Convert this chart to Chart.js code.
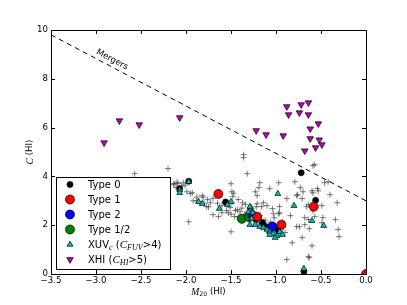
<!DOCTYPE html>
<html>
<head>
<meta charset="utf-8">
<script src="https://cdn.jsdelivr.net/npm/chart.js@4/dist/chart.umd.min.js"></script>
<style>
  html, body { margin: 0; padding: 0; background: #fff; }
  #chart-m20c { display: block; }
</style>
</head>
<body>
<canvas id="chart-m20c" width="407" height="305"></canvas>
<script>
//---data (M20 vs concentration, HI maps)

// field galaxies (grey crosses)
var fieldM20 = [-2.57, -2.20, -2.13, -2.09, -2.03, -2.11, -1.99, -1.93, -1.92, -1.88, -1.97, -2.14, -2.10, -2.01,
  -1.95, -1.82, -1.81, -1.76, -1.73, -1.77, -1.70, -1.64, -1.60, -1.50, -1.49, -1.48, -1.57, -1.51, -1.43, -1.46,
  -1.53, -1.32, -1.18, -1.19, -0.97, -0.77, -1.07, -1.23, -1.21, -1.47, -1.49, -1.42, -1.37, -1.14, -1.10, -1.21,
  -1.16, -1.04, -0.96, -0.84, -0.96, -1.03, -0.59, -0.57, -0.79, -0.46, -0.42, -0.76, -0.70, -0.60, -0.53, -0.71,
  -0.59, -0.49, -0.32, -0.66, -0.64, -0.68, -0.64, -0.57, -0.48, -0.34, -0.77, -0.74, -0.68, -0.63, -0.49, -0.31,
  -0.30, -0.71, -0.60, -0.64, -0.63, -1.36, -1.36, -0.73, -0.88, -0.54, -0.40, -0.82, -0.88, -0.59, -0.97, -0.93,
  -1.16, -1.50, -1.45, -1.40, -1.35, -1.30, -1.25, -1.20, -1.15, -1.10, -1.05, -1.00, -0.95, -1.12, -1.18, -1.38,
  -1.60, -1.65, -1.70, -1.80, -1.75, -1.55, -1.50, -1.42, -1.08, -0.98, -1.02, -1.27, -1.22, -1.34, -1.88, -2.05,
  -1.28, -1.24, -1.16, -1.06, -0.92, -0.90];
var fieldC = [4.11, 4.32, 3.71, 3.71, 3.74, 3.54, 3.37, 3.33, 3.00, 3.00, 2.14, 3.66, 3.76, 3.64,
  3.30, 3.21, 3.15, 3.05, 2.92, 2.76, 2.43, 2.35, 2.51, 3.70, 3.37, 3.17, 2.92, 2.72, 2.64, 2.35,
  2.51, 4.11, 3.74, 3.54, 3.74, 3.21, 3.50, 3.37, 3.21, 3.31, 2.92, 3.05, 2.92, 2.92, 2.80, 2.88,
  2.76, 2.68, 2.51, 2.39, 2.76, 2.47, 4.44, 4.48, 3.78, 3.74, 3.78, 3.25, 3.37, 3.41, 3.41, 3.09,
  3.33, 2.80, 2.92, 2.76, 2.84, 2.31, 2.23, 2.35, 2.31, 2.23, 1.94, 1.94, 2.02, 1.86, 2.10, 1.82,
  1.53, 1.49, 1.16, 0.71, 0.67, 4.89, 4.77, 3.54, 3.09, 3.50, 3.25, 1.28, 0.59, 2.59, 2.47, 2.14,
  1.90, 1.73, 2.60, 2.55, 2.45, 2.30, 2.20, 2.10, 2.05, 2.00, 1.95, 1.85, 1.80, 2.20, 2.40, 2.70,
  2.80, 2.90, 3.10, 2.90, 2.75, 2.60, 2.45, 2.35, 1.70, 1.60, 2.30, 2.60, 2.75, 2.85, 3.15, 3.60,
  2.48, 2.36, 2.22, 2.12, 1.92, 1.70];

var type0M20 = [-1.97, -2.07, -1.56, -1.22, -1.12, -1.05, -0.98, -1.15, -0.72, -0.56, -0.69];
var type0C   = [3.80, 3.50, 2.95, 2.25, 1.95, 1.85, 1.80, 2.10, 4.15, 3.02, 0.10];

var type1M20 = [-1.64, -1.21, -0.94, -0.58, 0.0];
var type1C   = [3.28, 2.35, 2.02, 2.76, 0.0];

var type2M20 = [-1.26, -1.04];
var type2C   = [2.40, 1.95];

var type12M20 = [-1.38, -1.30];
var type12C   = [2.26, 2.33];

var xuvM20 = [-1.97, -2.07, -2.07, -1.86, -1.82, -1.63, -1.54, -1.50, -1.31, -1.28, -1.26, -1.29, -0.98, -0.80, -0.60,
  -0.47, -0.69, -1.27, -1.29, -1.23, -1.18, -1.14, -1.10, -1.07, -1.03, -0.99, -0.96, -0.93, -1.01, -1.07];
var xuvC = [3.78, 3.45, 3.33, 2.96, 2.88, 2.68, 2.84, 2.96, 2.55, 2.72, 2.51, 2.76, 3.29, 2.80, 2.18,
  1.98, 0.22, 2.27, 2.02, 2.02, 1.94, 1.90, 1.82, 1.73, 1.65, 1.57, 1.73, 1.61, 1.49, 1.61];

var xhiM20 = [-2.91, -2.74, -2.52, -2.07, -1.22, -1.11, -0.92, -0.88, -0.72, -0.64, -0.86, -0.74, -0.64, -0.53,
  -0.62, -0.62, -0.52, -0.49, -0.56, -0.68];
var xhiC = [5.38, 6.28, 6.12, 6.41, 5.88, 5.71, 5.67, 6.86, 6.94, 7.02, 6.53, 6.61, 6.53, 6.16,
  5.95, 5.55, 5.50, 5.30, 5.18, 5.05];

// merger criterion line
var mergerM20 = [-3.5, 0.0];
var mergerC   = [9.8, 3.0];

// axes
var xTicks = [-3.5, -3.0, -2.5, -2.0, -1.5, -1.0, -0.5, 0.0];
var yTicks = [0, 2, 4, 6, 8, 10];

function pts(xs, ys) {
  return xs.map(function (x, i) { return { x: x, y: ys[i] }; });
}

//---label text pieces (it = math italic, sub = subscript)
var legendLabels = [
  [{ t: 'Type 0' }],
  [{ t: 'Type 1' }],
  [{ t: 'Type 2' }],
  [{ t: 'Type 1/2' }],
  [{ t: 'XUV' }, { t: 'c', it: 1, sub: 1 }, { t: ' (' }, { t: 'C', it: 1 }, { t: 'FUV', it: 1, sub: 1 }, { t: '>4)' }],
  [{ t: 'XHI (' }, { t: 'C', it: 1 }, { t: 'HI', it: 1, sub: 1 }, { t: '>5)' }]
];
var xTitle = [{ t: 'M', it: 1 }, { t: '20', sub: 1 }, { t: ' (HI)' }];
var yTitle = [{ t: 'C', it: 1 }, { t: ' (HI)' }];

function segFont(s, size) {
  var sz = s.sub ? size * 0.72 : size;
  if (s.it) return 'italic ' + (sz * 1.12).toFixed(2) + 'px "Liberation Serif"';
  return sz.toFixed(2) + 'px "DejaVu Sans"';
}
function richWidth(ctx, segs, size) {
  var w = 0;
  segs.forEach(function (s) { ctx.font = segFont(s, size); w += ctx.measureText(s.t).width; });
  return w;
}
function drawRich(ctx, segs, x, y, size) {
  var cx = x;
  segs.forEach(function (s) {
    ctx.font = segFont(s, size);
    ctx.fillText(s.t, cx, y + (s.sub ? size * 0.28 : 0));
    cx += ctx.measureText(s.t).width;
  });
}

function drawMarker(ctx, style, x, y, r, fill, rot) {
  ctx.beginPath();
  if (style === 'circle') {
    ctx.arc(x, y, r, 0, Math.PI * 2);
  } else {
    var a = (rot || 0) * Math.PI / 180;
    for (var k = 0; k < 3; k++) {
      var px = x + Math.sin(a) * r, py = y - Math.cos(a) * r;
      if (k === 0) ctx.moveTo(px, py); else ctx.lineTo(px, py);
      a += Math.PI * 2 / 3;
    }
    ctx.closePath();
  }
  ctx.fillStyle = fill;
  ctx.fill();
  ctx.lineWidth = 0.7;
  ctx.strokeStyle = '#000';
  ctx.stroke();
}

//---frame, inward ticks, axis titles, annotation and legend
var decorPlugin = {
  id: 'decor',
  afterDraw: function (chart) {
    var ctx = chart.ctx, a = chart.chartArea;
    var xs = chart.scales.x, ys = chart.scales.y;
    ctx.save();
    ctx.strokeStyle = '#000';
    ctx.lineWidth = 1;
    ctx.strokeRect(a.left + 0.5, a.top + 0.5, a.right - a.left, a.bottom - a.top);

    ctx.beginPath();
    xTicks.forEach(function (v) {
      var px = Math.round(xs.getPixelForValue(v)) + 0.5;
      ctx.moveTo(px, a.bottom); ctx.lineTo(px, a.bottom - 4);
      ctx.moveTo(px, a.top); ctx.lineTo(px, a.top + 4);
    });
    yTicks.forEach(function (v) {
      var py = Math.round(ys.getPixelForValue(v)) + 0.5;
      ctx.moveTo(a.left, py); ctx.lineTo(a.left + 4, py);
      ctx.moveTo(a.right, py); ctx.lineTo(a.right - 4, py);
    });
    ctx.stroke();

    // axis titles
    ctx.fillStyle = '#000';
    ctx.textBaseline = 'middle';
    ctx.textAlign = 'left';
    var fs = 8.6;
    var w = richWidth(ctx, xTitle, fs);
    drawRich(ctx, xTitle, (a.left + a.right) / 2 - w / 2, a.bottom + 18, fs);
    ctx.save();
    ctx.translate(a.left - 21, (a.top + a.bottom) / 2);
    ctx.rotate(-Math.PI / 2);
    w = richWidth(ctx, yTitle, fs);
    drawRich(ctx, yTitle, -w / 2, 0, fs);
    ctx.restore();

    // "Mergers" along the dashed line
    var ang = Math.atan2(ys.getPixelForValue(mergerC[1]) - ys.getPixelForValue(mergerC[0]),
                         xs.getPixelForValue(mergerM20[1]) - xs.getPixelForValue(mergerM20[0]));
    var m = -2.855;
    var c = mergerC[0] + (m - mergerM20[0]) * (mergerC[1] - mergerC[0]) / (mergerM20[1] - mergerM20[0]);
    ctx.save();
    ctx.translate(xs.getPixelForValue(m), ys.getPixelForValue(c));
    ctx.rotate(ang);
    ctx.textAlign = 'center';
    ctx.font = '8.6px "DejaVu Sans"';
    ctx.fillText('Mergers', 0, -6.5);
    ctx.restore();

    // legend box, lower left
    var bx = a.left + 5, bw = 114, bh = 92, by = a.bottom - 5 - bh;
    ctx.fillStyle = '#fff';
    ctx.fillRect(bx, by, bw, bh);
    ctx.strokeStyle = '#000';
    ctx.lineWidth = 1;
    ctx.strokeRect(bx + 0.5, by + 0.5, bw, bh);
    chart.data.datasets.forEach(function (ds, i) {
      if (ds.legendRow === undefined) return;
      var r = ds.legendRow;
      var yy = by + 7.5 + r * 15;
      drawMarker(ctx, ds.pointStyle, bx + 14, yy, ds.pointRadius, ds.backgroundColor, ds.rotation);
      ctx.fillStyle = '#000';
      ctx.textAlign = 'left';
      ctx.textBaseline = 'middle';
      drawRich(ctx, legendLabels[r], bx + 32, yy + 0.5, 10);
    });
    ctx.restore();
  }
};

function markerSet(label, xs, ys, style, radius, color, row, order, rot) {
  return {
    label: label,
    data: pts(xs, ys),
    pointStyle: style,
    pointRadius: radius,
    pointHoverRadius: radius,
    rotation: rot || 0,
    backgroundColor: color,
    borderColor: '#000',
    borderWidth: 0.7,
    legendRow: row,
    order: order,
    clip: 0
  };
}

var ctx = document.getElementById('chart-m20c').getContext('2d');
var chartM20 = new Chart(ctx, {
  type: 'scatter',
  data: {
    datasets: [
      {
        label: 'field',
        data: pts(fieldM20, fieldC),
        pointStyle: 'cross',
        pointRadius: 3,
        borderColor: 'rgba(60,60,60,0.75)',
        borderWidth: 0.9,
        order: 9,
        clip: 0
      },
      {
        label: 'Mergers',
        data: pts(mergerM20, mergerC),
        showLine: true,
        pointRadius: 0,
        borderColor: '#000',
        borderWidth: 1,
        borderDash: [5, 4],
        order: 8,
        clip: 0
      },
      markerSet('Type 0', type0M20, type0C, 'circle', 3, '#000000', 0, 7),
      markerSet('Type 1/2', type12M20, type12C, 'circle', 4.5, '#008000', 3, 6),
      markerSet('Type 2', type2M20, type2C, 'circle', 4.5, '#0000ff', 2, 5),
      markerSet('Type 1', type1M20, type1C, 'circle', 4.5, '#ff0000', 1, 4),
      markerSet('XUV', xuvM20, xuvC, 'triangle', 3.4, '#00bfbf', 4, 3),
      markerSet('XHI', xhiM20, xhiC, 'triangle', 3.8, '#bf00bf', 5, 2, 180)
    ]
  },
  options: {
    responsive: false,
    animation: false,
    devicePixelRatio: 1,
    layout: { padding: { left: 21, right: 41, top: 30, bottom: 11 } },
    plugins: {
      legend: { display: false },
      tooltip: { enabled: false }
    },
    scales: {
      x: {
        type: 'linear',
        min: -3.5,
        max: 0,
        afterBuildTicks: function (s) { s.ticks = xTicks.map(function (v) { return { value: v }; }); },
        afterFit: function (s) { s.height = 20; },
        grid: { display: false, drawTicks: false },
        border: { display: false },
        ticks: {
          padding: 2,
          color: '#000',
          maxRotation: 0,
          font: { family: 'DejaVu Sans', size: 8.6 },
          callback: function (v) { return (v < 0 ? '\u2212' : '') + Math.abs(v).toFixed(1); }
        }
      },
      y: {
        type: 'linear',
        min: 0,
        max: 10,
        afterBuildTicks: function (s) { s.ticks = yTicks.map(function (v) { return { value: v }; }); },
        afterFit: function (s) { s.width = 30; },
        grid: { display: false, drawTicks: false },
        border: { display: false },
        ticks: {
          padding: 3,
          color: '#000',
          font: { family: 'DejaVu Sans', size: 8.6 },
          callback: function (v) { return String(v); }
        }
      }
    }
  },
  plugins: [decorPlugin]
});
</script>
</body>
</html>
